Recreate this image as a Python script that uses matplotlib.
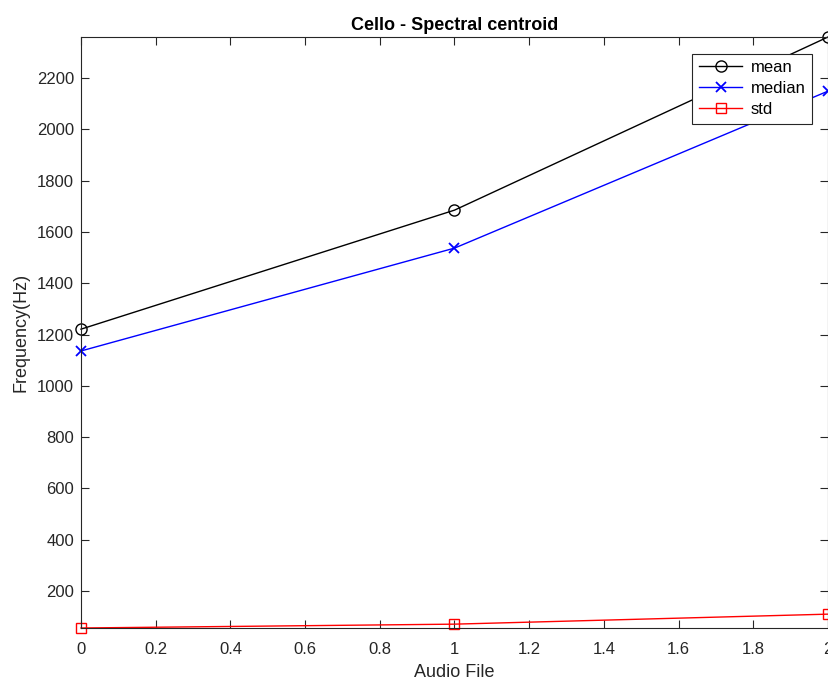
import matplotlib.pyplot as plt

# values
audio_files = [0, 1, 2]
mean_vals = [1221, 1685, 2360]
median_vals = [1136, 1537, 2149]
std_vals = [56, 71, 110]
xticks = [0, 0.2, 0.4, 0.6, 0.8, 1.0, 1.2, 1.4, 1.6, 1.8, 2.0]
xtick_labels = ["0", "0.2", "0.4", "0.6", "0.8", "1", "1.2", "1.4", "1.6", "1.8", "2"]
yticks = [200, 400, 600, 800, 1000, 1200, 1400, 1600, 1800, 2000, 2200]

plt.rcParams["font.family"] = ["Liberation Sans", "DejaVu Sans"]

fig = plt.figure(figsize=(8.29, 6.82), dpi=100)
ax = fig.add_axes([81 / 829, 54 / 682, 747 / 829, 591 / 682])

ax.plot(audio_files, mean_vals, "k-o", markerfacecolor="none", markersize=8,
        linewidth=1, label="mean", clip_on=False)
ax.plot(audio_files, median_vals, "b-x", markersize=6.5, markeredgewidth=1.3,
        linewidth=1, label="median", clip_on=False)
ax.plot(audio_files, std_vals, "r-s", markerfacecolor="none", markersize=6.5,
        linewidth=1, label="std", clip_on=False)

ax.set_xlim(0, 2)
ax.set_ylim(min(std_vals), max(mean_vals))
ax.set_xticks(xticks)
ax.set_xticklabels(xtick_labels)
ax.set_yticks(yticks)

ax.tick_params(direction="in", top=True, right=True, labelsize=12,
               colors="#262626", length=6, width=0.8)
ax.tick_params(axis="x", pad=10)
ax.tick_params(axis="y", pad=5)
for sp in ax.spines.values():
    sp.set_color("#262626")
    sp.set_linewidth(0.8)

ax.set_xlabel("Audio File", fontsize=13, color="#262626", labelpad=5)
ax.set_ylabel("Frequency(Hz)", fontsize=13, color="#262626", labelpad=5)
ax.set_title("Cello - Spectral centroid", fontsize=13, fontweight="bold", pad=5)

leg = ax.legend(loc="upper right", bbox_to_anchor=(0.979, 0.972), fontsize=12,
                fancybox=False, framealpha=1, edgecolor="#262626",
                handlelength=2.6, borderpad=0.4, labelspacing=0.35,
                handletextpad=0.5, borderaxespad=0)
leg.get_frame().set_linewidth(0.8)

fig.savefig("out.png", dpi=100)
